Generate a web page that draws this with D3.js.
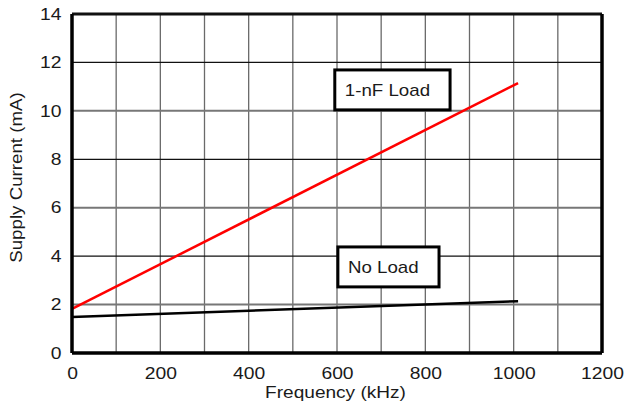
<!DOCTYPE html>
<html>
<head>
<meta charset="utf-8">
<script src="https://cdn.jsdelivr.net/npm/d3@7"></script>
<style>
  body { margin: 0; background: #fff; }
  text { font-family: "Liberation Sans", Arial, sans-serif; fill: #1a1a1a; }
</style>
</head>
<body>
<div id="graf"></div>
<script>
// Data
const freqTicks = [0, 200, 400, 600, 800, 1000, 1200]
const currentTicks = [0, 2, 4, 6, 8, 10, 12, 14]
const loadFreq = [0, 1010]
const loadCurrent = [1.82, 11.15]
const noLoadFreq = [0, 1010]
const noLoadCurrent = [1.49, 2.14]
const labels = ["1-nF Load", "No Load"]
const labelBoxes = [[595, 856, 11.69, 10.04], [602, 831, 4.38, 2.73]]

const anchoTotal = 627
const altoTotal = 406
const margins = { left: 72, top: 14, right: 25, bottom: 53 }
const ancho = anchoTotal - margins.left - margins.right
const alto = altoTotal - margins.top - margins.bottom
const estirar = "scale(1.17, 1)"

const svg = d3.select("#graf")
  .append("svg")
  .attr("width", anchoTotal)
  .attr("height", altoTotal)

const g = svg.append("g")
  .attr("transform", `translate(${margins.left}, ${margins.top})`)

// Escaladores
const x = d3.scaleLinear().domain([0, 1200]).range([0, ancho])
const y = d3.scaleLinear().domain([0, 14]).range([alto, 0])

// Grid
g.selectAll(".vgrid")
  .data(d3.range(100, 1200, 100))
  .join("line")
  .attr("x1", d => x(d)).attr("x2", d => x(d))
  .attr("y1", 0).attr("y2", alto)
  .attr("stroke", "#6a6a6a").attr("stroke-width", 1.3)

g.selectAll(".hgrid")
  .data(currentTicks.slice(1, -1))
  .join("line")
  .attr("x1", 0).attr("x2", ancho)
  .attr("y1", d => y(d)).attr("y2", d => y(d))
  .attr("stroke", d => d % 4 === 2 ? "#777" : "#111").attr("stroke-width", d => d % 4 === 2 ? 2 : 1.3)

// Series
const line = d3.line().x(d => x(d[0])).y(d => y(d[1]))
g.append("path")
  .datum(noLoadFreq.map((f, i) => [f, noLoadCurrent[i]]))
  .attr("d", line).attr("fill", "none")
  .attr("stroke", "#000").attr("stroke-width", 2.5)
g.append("path")
  .datum(loadFreq.map((f, i) => [f, loadCurrent[i]]))
  .attr("d", line).attr("fill", "none")
  .attr("stroke", "#ff0000").attr("stroke-width", 2.5)

// Marco
g.append("line").attr("x1", 0).attr("x2", ancho).attr("y1", 0).attr("y2", 0)
  .attr("stroke", "#111").attr("stroke-width", 3)
g.append("line").attr("x1", ancho).attr("x2", ancho).attr("y1", 0).attr("y2", alto)
  .attr("stroke", "#000").attr("stroke-width", 3.5)
g.append("line").attr("x1", 0).attr("x2", 0).attr("y1", 0).attr("y2", alto)
  .attr("stroke", "#000").attr("stroke-width", 3.5)
g.append("line").attr("x1", 0).attr("x2", ancho).attr("y1", alto).attr("y2", alto)
  .attr("stroke", "#000").attr("stroke-width", 3.5)

// Ejes
const xAxis = d3.axisBottom(x).tickValues(freqTicks).tickFormat(d3.format("d")).tickSize(0).tickPadding(14)
const xAxisGroup = g.append("g")
  .attr("transform", `translate(0, ${alto})`)
  .call(xAxis)
xAxisGroup.select(".domain").remove()
xAxisGroup.selectAll("text").style("font-size", "16.5px").attr("transform", estirar)
  .style("font-family", '"Liberation Sans", Arial, sans-serif').attr("fill", "#1a1a1a")

const yAxis = d3.axisLeft(y).tickValues(currentTicks).tickSize(0).tickPadding(9)
const yAxisGroup = g.append("g").call(yAxis)
yAxisGroup.select(".domain").remove()
yAxisGroup.selectAll("text").style("font-size", "16.5px").attr("transform", estirar)
  .style("font-family", '"Liberation Sans", Arial, sans-serif').attr("fill", "#1a1a1a")

svg.append("text")
  .attr("transform", `translate(${margins.left + ancho / 2 - 1.5}, 398) ${estirar}`)
  .attr("text-anchor", "middle").style("font-size", "16.3px")
  .text("Frequency (kHz)")

svg.append("text")
  .attr("transform", `translate(22, ${margins.top + alto / 2 - 6}) rotate(-90) ${estirar}`)
  .attr("text-anchor", "middle").style("font-size", "16px")
  .text("Supply Current (mA)")

// Etiquetas
const etiquetas = g.selectAll(".etiqueta")
  .data(labels)
  .join("g")
etiquetas.append("rect")
  .attr("x", (d, i) => x(labelBoxes[i][0]))
  .attr("y", (d, i) => y(labelBoxes[i][2]))
  .attr("width", (d, i) => x(labelBoxes[i][1]) - x(labelBoxes[i][0]))
  .attr("height", (d, i) => y(labelBoxes[i][3]) - y(labelBoxes[i][2]))
  .attr("fill", "#fff").attr("stroke", "#000").attr("stroke-width", 3)
etiquetas.append("text")
  .attr("transform", (d, i) => `translate(${x(labelBoxes[i][0]) + 10}, ${(y(labelBoxes[i][2]) + y(labelBoxes[i][3])) / 2 + 6}) ${estirar}`)
  .style("font-size", "16px")
  .text(d => d)
</script>
</body>
</html>
